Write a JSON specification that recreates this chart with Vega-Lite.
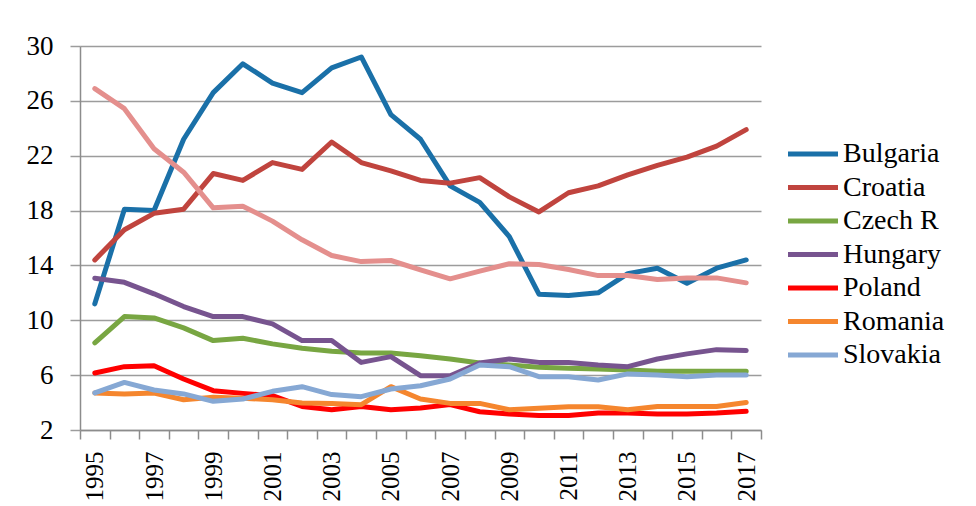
{
  "$schema": "https://vega.github.io/schema/vega-lite/v6.json",
  "width": 681,
  "height": 384,
  "autosize": "none",
  "padding": {"left": 80, "top": 46, "right": 215, "bottom": 76},
  "background": "white",
  "config": {"view": {"stroke": null}, "font": "Liberation Serif"},
  "data": {"values": [
    {"country":"Bulgaria","year":1995,"value":11.2},{"country":"Bulgaria","year":1996,"value":18.1},{"country":"Bulgaria","year":1997,"value":18.0},{"country":"Bulgaria","year":1998,"value":23.2},{"country":"Bulgaria","year":1999,"value":26.6},{"country":"Bulgaria","year":2000,"value":28.7},{"country":"Bulgaria","year":2001,"value":27.3},{"country":"Bulgaria","year":2002,"value":26.6},{"country":"Bulgaria","year":2003,"value":28.4},{"country":"Bulgaria","year":2004,"value":29.2},{"country":"Bulgaria","year":2005,"value":25.0},{"country":"Bulgaria","year":2006,"value":23.2},{"country":"Bulgaria","year":2007,"value":19.8},{"country":"Bulgaria","year":2008,"value":18.6},{"country":"Bulgaria","year":2009,"value":16.1},{"country":"Bulgaria","year":2010,"value":11.9},{"country":"Bulgaria","year":2011,"value":11.8},{"country":"Bulgaria","year":2012,"value":12.0},{"country":"Bulgaria","year":2013,"value":13.4},{"country":"Bulgaria","year":2014,"value":13.8},{"country":"Bulgaria","year":2015,"value":12.7},{"country":"Bulgaria","year":2016,"value":13.8},{"country":"Bulgaria","year":2017,"value":14.4},
    {"country":"Croatia","year":1995,"value":14.4},{"country":"Croatia","year":1996,"value":16.6},{"country":"Croatia","year":1997,"value":17.8},{"country":"Croatia","year":1998,"value":18.1},{"country":"Croatia","year":1999,"value":20.7},{"country":"Croatia","year":2000,"value":20.2},{"country":"Croatia","year":2001,"value":21.5},{"country":"Croatia","year":2002,"value":21.0},{"country":"Croatia","year":2003,"value":23.0},{"country":"Croatia","year":2004,"value":21.5},{"country":"Croatia","year":2005,"value":20.9},{"country":"Croatia","year":2006,"value":20.2},{"country":"Croatia","year":2007,"value":20.0},{"country":"Croatia","year":2008,"value":20.4},{"country":"Croatia","year":2009,"value":19.0},{"country":"Croatia","year":2010,"value":17.9},{"country":"Croatia","year":2011,"value":19.3},{"country":"Croatia","year":2012,"value":19.8},{"country":"Croatia","year":2013,"value":20.6},{"country":"Croatia","year":2014,"value":21.3},{"country":"Croatia","year":2015,"value":21.9},{"country":"Croatia","year":2016,"value":22.7},{"country":"Croatia","year":2017,"value":23.9},
    {"country":"Czech R","year":1995,"value":8.35},{"country":"Czech R","year":1996,"value":10.27},{"country":"Czech R","year":1997,"value":10.17},{"country":"Czech R","year":1998,"value":9.45},{"country":"Czech R","year":1999,"value":8.52},{"country":"Czech R","year":2000,"value":8.69},{"country":"Czech R","year":2001,"value":8.28},{"country":"Czech R","year":2002,"value":7.96},{"country":"Czech R","year":2003,"value":7.74},{"country":"Czech R","year":2004,"value":7.62},{"country":"Czech R","year":2005,"value":7.62},{"country":"Czech R","year":2006,"value":7.42},{"country":"Czech R","year":2007,"value":7.18},{"country":"Czech R","year":2008,"value":6.89},{"country":"Czech R","year":2009,"value":6.74},{"country":"Czech R","year":2010,"value":6.57},{"country":"Czech R","year":2011,"value":6.5},{"country":"Czech R","year":2012,"value":6.45},{"country":"Czech R","year":2013,"value":6.38},{"country":"Czech R","year":2014,"value":6.28},{"country":"Czech R","year":2015,"value":6.28},{"country":"Czech R","year":2016,"value":6.28},{"country":"Czech R","year":2017,"value":6.28},
    {"country":"Hungary","year":1995,"value":13.07},{"country":"Hungary","year":1996,"value":12.77},{"country":"Hungary","year":1997,"value":11.93},{"country":"Hungary","year":1998,"value":11.0},{"country":"Hungary","year":1999,"value":10.27},{"country":"Hungary","year":2000,"value":10.27},{"country":"Hungary","year":2001,"value":9.74},{"country":"Hungary","year":2002,"value":8.52},{"country":"Hungary","year":2003,"value":8.52},{"country":"Hungary","year":2004,"value":6.93},{"country":"Hungary","year":2005,"value":7.35},{"country":"Hungary","year":2006,"value":5.96},{"country":"Hungary","year":2007,"value":5.96},{"country":"Hungary","year":2008,"value":6.89},{"country":"Hungary","year":2009,"value":7.18},{"country":"Hungary","year":2010,"value":6.93},{"country":"Hungary","year":2011,"value":6.93},{"country":"Hungary","year":2012,"value":6.74},{"country":"Hungary","year":2013,"value":6.62},{"country":"Hungary","year":2014,"value":7.18},{"country":"Hungary","year":2015,"value":7.55},{"country":"Hungary","year":2016,"value":7.86},{"country":"Hungary","year":2017,"value":7.79},
    {"country":"Poland","year":1995,"value":6.16},{"country":"Poland","year":1996,"value":6.62},{"country":"Poland","year":1997,"value":6.69},{"country":"Poland","year":1998,"value":5.72},{"country":"Poland","year":1999,"value":4.87},{"country":"Poland","year":2000,"value":4.67},{"country":"Poland","year":2001,"value":4.5},{"country":"Poland","year":2002,"value":3.72},{"country":"Poland","year":2003,"value":3.48},{"country":"Poland","year":2004,"value":3.72},{"country":"Poland","year":2005,"value":3.48},{"country":"Poland","year":2006,"value":3.6},{"country":"Poland","year":2007,"value":3.85},{"country":"Poland","year":2008,"value":3.33},{"country":"Poland","year":2009,"value":3.17},{"country":"Poland","year":2010,"value":3.05},{"country":"Poland","year":2011,"value":3.05},{"country":"Poland","year":2012,"value":3.24},{"country":"Poland","year":2013,"value":3.24},{"country":"Poland","year":2014,"value":3.17},{"country":"Poland","year":2015,"value":3.17},{"country":"Poland","year":2016,"value":3.24},{"country":"Poland","year":2017,"value":3.36},
    {"country":"Romania","year":1995,"value":4.7},{"country":"Romania","year":1996,"value":4.63},{"country":"Romania","year":1997,"value":4.7},{"country":"Romania","year":1998,"value":4.21},{"country":"Romania","year":1999,"value":4.38},{"country":"Romania","year":2000,"value":4.31},{"country":"Romania","year":2001,"value":4.21},{"country":"Romania","year":2002,"value":3.97},{"country":"Romania","year":2003,"value":3.94},{"country":"Romania","year":2004,"value":3.85},{"country":"Romania","year":2005,"value":5.16},{"country":"Romania","year":2006,"value":4.26},{"country":"Romania","year":2007,"value":3.94},{"country":"Romania","year":2008,"value":3.94},{"country":"Romania","year":2009,"value":3.48},{"country":"Romania","year":2010,"value":3.58},{"country":"Romania","year":2011,"value":3.7},{"country":"Romania","year":2012,"value":3.7},{"country":"Romania","year":2013,"value":3.48},{"country":"Romania","year":2014,"value":3.72},{"country":"Romania","year":2015,"value":3.72},{"country":"Romania","year":2016,"value":3.72},{"country":"Romania","year":2017,"value":4.01},
    {"country":"Slovakia","year":1995,"value":4.7},{"country":"Slovakia","year":1996,"value":5.47},{"country":"Slovakia","year":1997,"value":4.92},{"country":"Slovakia","year":1998,"value":4.63},{"country":"Slovakia","year":1999,"value":4.09},{"country":"Slovakia","year":2000,"value":4.26},{"country":"Slovakia","year":2001,"value":4.82},{"country":"Slovakia","year":2002,"value":5.16},{"country":"Slovakia","year":2003,"value":4.58},{"country":"Slovakia","year":2004,"value":4.43},{"country":"Slovakia","year":2005,"value":4.99},{"country":"Slovakia","year":2006,"value":5.23},{"country":"Slovakia","year":2007,"value":5.72},{"country":"Slovakia","year":2008,"value":6.74},{"country":"Slovakia","year":2009,"value":6.62},{"country":"Slovakia","year":2010,"value":5.89},{"country":"Slovakia","year":2011,"value":5.89},{"country":"Slovakia","year":2012,"value":5.65},{"country":"Slovakia","year":2013,"value":6.09},{"country":"Slovakia","year":2014,"value":6.01},{"country":"Slovakia","year":2015,"value":5.89},{"country":"Slovakia","year":2016,"value":6.01},{"country":"Slovakia","year":2017,"value":6.01},
    {"country":"Other","year":1995,"value":26.89},{"country":"Other","year":1996,"value":25.43},{"country":"Other","year":1997,"value":22.51},{"country":"Other","year":1998,"value":20.8},{"country":"Other","year":1999,"value":18.2},{"country":"Other","year":2000,"value":18.32},{"country":"Other","year":2001,"value":17.23},{"country":"Other","year":2002,"value":15.87},{"country":"Other","year":2003,"value":14.72},{"country":"Other","year":2004,"value":14.28},{"country":"Other","year":2005,"value":14.36},{"country":"Other","year":2006,"value":13.68},{"country":"Other","year":2007,"value":13.02},{"country":"Other","year":2008,"value":13.58},{"country":"Other","year":2009,"value":14.12},{"country":"Other","year":2010,"value":14.07},{"country":"Other","year":2011,"value":13.7},{"country":"Other","year":2012,"value":13.26},{"country":"Other","year":2013,"value":13.26},{"country":"Other","year":2014,"value":12.97},{"country":"Other","year":2015,"value":13.09},{"country":"Other","year":2016,"value":13.09},{"country":"Other","year":2017,"value":12.73}
  ]},
  "mark": {"type": "line", "strokeWidth": 5, "strokeCap": "round", "strokeJoin": "round"},
  "encoding": {
    "x": {
      "field": "year", "type": "ordinal", "bandPosition": 0.5,
      "scale": {"type": "band", "paddingInner": 0, "paddingOuter": 0},
      "axis": {
        "title": null, "labelAngle": -90, "labelExpr": "datum.value % 2 == 1 ? datum.label : ''",
        "labelOverlap": false, "tickBand": "extent", "tickSize": 9, "tickWidth": 1.5, "tickColor": "#8c8c8c",
        "domainColor": "#8c8c8c", "domainWidth": 1.5, "labelFont": "Liberation Serif", "labelFontSize": 25,
        "labelColor": "black", "labelPadding": 12, "grid": false
      }
    },
    "y": {
      "field": "value", "type": "quantitative",
      "scale": {"domain": [2, 30], "nice": false, "zero": false},
      "axis": {
        "title": null, "values": [2, 6, 10, 14, 18, 22, 26, 30], "grid": true, "gridColor": "#9c9c9c", "gridWidth": 1.5,
        "tickSize": 10, "tickWidth": 1.5, "tickColor": "#9c9c9c", "domainColor": "#8c8c8c", "domainWidth": 1.5,
        "labelFont": "Liberation Serif", "labelFontSize": 27, "labelColor": "black", "labelPadding": 17
      }
    },
    "color": {
      "field": "country", "type": "nominal",
      "scale": {
        "domain": ["Bulgaria", "Croatia", "Czech R", "Hungary", "Poland", "Romania", "Slovakia", "Other"],
        "range": ["#1a70a8", "#c0443e", "#78a642", "#77548f", "#ff0000", "#f5862e", "#86a8d4", "#e48f8d"]
      },
      "legend": {
        "values": ["Bulgaria", "Croatia", "Czech R", "Hungary", "Poland", "Romania", "Slovakia"],
        "orient": "none", "legendX": 718, "legendY": 93, "title": null, "padding": 0,
        "symbolType": "M-2,0H2", "symbolStrokeWidth": 5, "symbolSize": 625, "symbolStrokeCap": "round",
        "labelFont": "Liberation Serif", "labelFontSize": 28, "labelColor": "black", "labelOffset": 15, "rowPadding": 4.5
      }
    }
  }
}
